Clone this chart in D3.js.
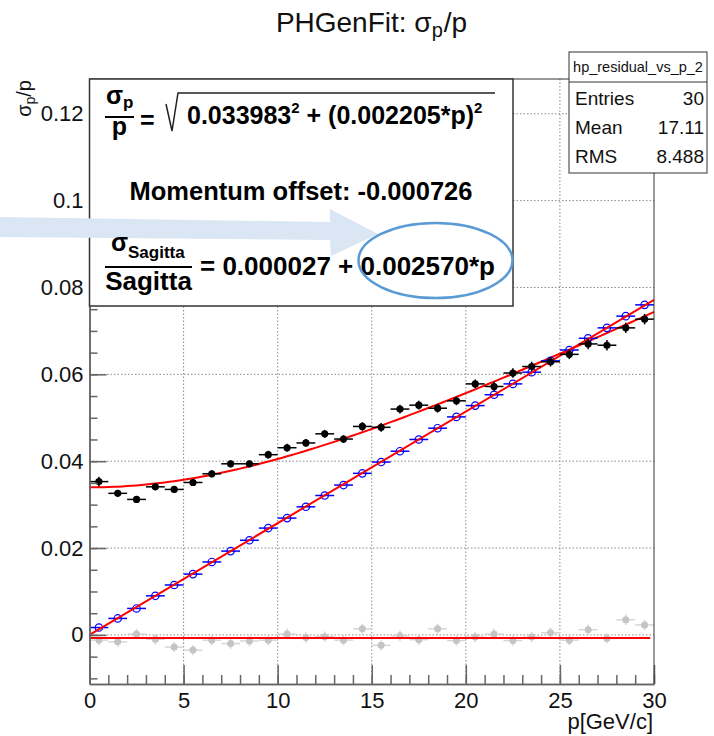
<!DOCTYPE html>
<html><head><meta charset="utf-8">
<script src="https://cdn.jsdelivr.net/npm/d3@7"></script>
<style>
body{margin:0;background:#fff;}
svg{display:block;font-family:"Liberation Sans",Arial,Helvetica,sans-serif;}
</style>
</head><body><svg id="c" width="714" height="736"></svg>
<script>
// ---------- data ----------
const binCenters = [0.5,1.5,2.5,3.5,4.5,5.5,6.5,7.5,8.5,9.5,10.5,11.5,12.5,13.5,14.5,15.5,16.5,17.5,18.5,19.5,20.5,21.5,22.5,23.5,24.5,25.5,26.5,27.5,28.5,29.5];
const sigmaPOverP = [0.0353,0.0326,0.0312,0.0341,0.0335,0.0351,0.0371,0.0394,0.0394,0.0415,0.0431,0.0442,0.0463,0.0451,0.0480,0.0478,0.0520,0.0529,0.0522,0.0539,0.0578,0.0572,0.0603,0.0618,0.0629,0.0646,0.0670,0.0667,0.0707,0.0727];
const sigmaPErr = [0.0011,0.0008,0.0008,0.0008,0.0008,0.0008,0.0008,0.0008,0.0008,0.0009,0.0009,0.0009,0.0009,0.0009,0.0010,0.0010,0.0010,0.0010,0.0010,0.0010,0.0010,0.0011,0.0011,0.0011,0.0011,0.0011,0.0012,0.0012,0.0012,0.0012];
const sagittaRes = [0.0017,0.0038,0.0061,0.0090,0.0115,0.0140,0.0168,0.0193,0.0218,0.0246,0.0269,0.0295,0.0321,0.0345,0.0372,0.0398,0.0423,0.0450,0.0476,0.0502,0.0528,0.0553,0.0578,0.0605,0.0631,0.0656,0.0683,0.0707,0.0734,0.0760];
const momentumOffset = [-0.0012,-0.0016,0.0002,-0.0010,-0.0028,-0.0035,-0.0012,-0.0020,-0.0014,-0.0012,0.0002,-0.0006,-0.0004,-0.0012,0.0014,-0.0024,-0.0002,-0.0011,0.0014,-0.0013,-0.0005,0.0002,-0.0013,-0.0005,0.0005,-0.0012,0.0012,-0.0008,0.0035,0.0023];
const offsetErr = [0.0012,0.0012,0.0012,0.0012,0.0012,0.0012,0.0012,0.0012,0.0012,0.0012,0.0012,0.0012,0.0012,0.0012,0.0012,0.0012,0.0012,0.0012,0.0012,0.0012,0.0012,0.0012,0.0012,0.0012,0.0012,0.0012,0.0012,0.0012,0.0012,0.0012];
const xTicks = [0,5,10,15,20,25,30];
const xTickLabels = ["0","5","10","15","20","25","30"];
const yTicks = [0,0.02,0.04,0.06,0.08,0.1,0.12];
const yTickLabels = ["0","0.02","0.04","0.06","0.08","0.1","0.12"];
const fitSigmaP = [0.033983, 0.002205];
const fitSagitta = [0.000027, 0.002570];
const fitOffset = [-0.000726];
const statsNames = ["Entries","Mean","RMS"];
const statsValues = ["30","17.11","8.488"];

// ---------- setup ----------
const svg = d3.select("#c");
const X0=89.5, X1=654, Y0=684, Y1=79;
const x = d3.scaleLinear().domain([0,30]).range([X0,X1]);
const y = d3.scaleLinear().domain([-0.0113,0.128]).range([Y0,Y1]);

// grid
const grid = svg.append("g").attr("stroke","#8a8a8a").attr("stroke-width",1).attr("stroke-dasharray","1.5,2");
xTicks.filter(t=>t>0&&t<30).forEach(t=>grid.append("line").attr("x1",x(t)).attr("x2",x(t)).attr("y1",Y1).attr("y2",Y0));
yTicks.forEach(t=>grid.append("line").attr("x1",X0).attr("x2",X1).attr("y1",y(t)).attr("y2",y(t)));

// fits
const red = "#ff0000";
const lineGen = d3.line().x(d=>x(d[0])).y(d=>y(d[1]));
const sampP = d3.range(0,30.001,0.25);
svg.append("path").attr("d",lineGen(sampP.map(p=>[p,Math.sqrt(fitSigmaP[0]**2+(fitSigmaP[1]*p)**2)])))
  .attr("fill","none").attr("stroke",red).attr("stroke-width",2);

// data series drawing
function drawSeries(vals, errs, opt){
  const g = svg.append("g");
  binCenters.forEach((p,i)=>{
    g.append("line").attr("x1",x(p-0.5)).attr("x2",x(p+0.5)).attr("y1",y(vals[i])).attr("y2",y(vals[i]))
      .attr("stroke",opt.bar).attr("stroke-width",1.5);
    if(errs){
      g.append("line").attr("x1",x(p)).attr("x2",x(p)).attr("y1",y(vals[i]-errs[i])).attr("y2",y(vals[i]+errs[i]))
        .attr("stroke",opt.bar).attr("stroke-width",1.5);
    }
    g.append("circle").attr("cx",x(p)).attr("cy",y(vals[i])).attr("r",opt.r)
      .attr("fill",opt.fill).attr("stroke",opt.stroke).attr("stroke-width",1.2);
  });
}
drawSeries(momentumOffset, offsetErr, {bar:"#d6d6d6", fill:"#c4c4c4", stroke:"none", r:3.5});
svg.append("path").attr("d",lineGen([[0,fitOffset[0]],[29.8,fitOffset[0]]])).attr("fill","none").attr("stroke",red).attr("stroke-width",2);
drawSeries(sagittaRes, null, {bar:"#0000ff", fill:"none", stroke:"#0000ff", r:3.7});
svg.append("path").attr("d",lineGen([[0,fitSagitta[0]],[30,fitSagitta[0]+fitSagitta[1]*30]])).attr("fill","none").attr("stroke",red).attr("stroke-width",2);
drawSeries(sigmaPOverP, sigmaPErr, {bar:"#000", fill:"#000", stroke:"none", r:3.6});

// axes
const axCol="#666";
function styleAxis(g){ g.selectAll("path,line").attr("stroke",axCol).attr("stroke-width",1.5); g.selectAll("text").attr("fill","#111").attr("font-size",22).attr("font-family","Liberation Sans, Arial, sans-serif"); }
svg.append("g").attr("transform",`translate(0,${Y0})`)
  .call(d3.axisBottom(x).tickValues(d3.range(0,31,1)).tickSize(-9).tickFormat("").tickSizeOuter(0)).call(styleAxis);
svg.append("g").attr("transform",`translate(0,${Y0})`)
  .call(d3.axisBottom(x).tickValues(xTicks).tickSize(-19).tickPadding(8).tickSizeOuter(0).tickFormat((d,i)=>xTickLabels[i])).call(styleAxis);
svg.append("g").attr("transform",`translate(${X0},0)`)
  .call(d3.axisLeft(y).tickValues(d3.range(-0.01,0.1251,0.005)).tickSize(-8).tickFormat("").tickSizeOuter(0)).call(styleAxis);
svg.append("g").attr("transform",`translate(${X0},0)`)
  .call(d3.axisLeft(y).tickValues(yTicks).tickSize(-17).tickPadding(6).tickSizeOuter(0).tickFormat((d,i)=>yTickLabels[i])).call(styleAxis);
// frame top/right
svg.append("path").attr("d",`M${X0},${Y1}H${X1}V${Y0}`).attr("fill","none").attr("stroke","#333").attr("stroke-width",1);

// axis titles
svg.append("text").attr("x",653).attr("y",729).attr("text-anchor","end").attr("font-size",22).attr("fill","#111").text("p[GeV/c]");
const yt = svg.append("text").attr("transform","translate(31,80) rotate(-90)").attr("text-anchor","end").attr("font-size",20).attr("fill","#111");
yt.append("tspan").text("σ");
yt.append("tspan").attr("dy",4).attr("font-size",14).text("p");
yt.append("tspan").attr("dy",-4).text("/p");

// title
const tt = svg.append("text").attr("x",371.5).attr("y",32).attr("text-anchor","middle").attr("font-size",28).attr("fill","#111");
tt.append("tspan").text("PHGenFit: σ");
tt.append("tspan").attr("dy",5).attr("font-size",20).text("p");
tt.append("tspan").attr("dy",-5).attr("dx",1).text("/p");

// formula box
svg.append("rect").attr("x",X0).attr("y",Y1).attr("width",513-X0).attr("height",306-Y1).attr("fill","#fff").attr("stroke","#333").attr("stroke-width",1.5);

// arrow
svg.append("path").attr("d","M0,217 L330,222 L330,209 L378,234 L331,256 L330,240 L0,237 Z").attr("fill","#dae6f3");

const F = svg.append("g").attr("font-weight","bold").attr("fill","#000");
// line 1
F.append("text").attr("x",106).attr("y",104).attr("font-size",25).text("σ");
F.append("text").attr("x",123).attr("y",108).attr("font-size",17).text("p");
F.append("line").attr("x1",105).attr("x2",134).attr("y1",117).attr("y2",117).attr("stroke","#000").attr("stroke-width",2);
F.append("text").attr("x",119.5).attr("y",135).attr("text-anchor","middle").attr("font-size",25).text("p");
F.append("text").attr("x",140).attr("y",129).attr("font-size",25).text("=");
F.append("path").attr("d","M166,104 L172,131 L178,93 H495").attr("fill","none").attr("stroke","#222").attr("stroke-width",1.5);
const l1 = F.append("text").attr("x",187).attr("y",124).attr("font-size",25);
l1.append("tspan").text("0.033983");
l1.append("tspan").attr("dy",-11).attr("font-size",15).text("2");
l1.append("tspan").attr("dy",11).text(" + (0.002205*p)");
l1.append("tspan").attr("dy",-11).attr("font-size",15).text("2");
// line 2
F.append("text").attr("x",301).attr("y",200).attr("text-anchor","middle").attr("font-size",25.5).text("Momentum offset: -0.000726");
// line 3
F.append("text").attr("x",111).attr("y",251).attr("font-size",25).text("σ");
F.append("text").attr("x",128).attr("y",258).attr("font-size",17).text("Sagitta");
F.append("line").attr("x1",105).attr("x2",192).attr("y1",267).attr("y2",267).attr("stroke","#000").attr("stroke-width",2);
F.append("text").attr("x",148.5).attr("y",290).attr("text-anchor","middle").attr("font-size",26).text("Sagitta");
F.append("text").attr("x",200).attr("y",275).attr("font-size",26).text("= 0.000027 + 0.002570*p");

// stats box
svg.append("rect").attr("x",569).attr("y",52).attr("width",138).attr("height",121).attr("fill","#fff").attr("stroke","#333").attr("stroke-width",1);
svg.append("line").attr("x1",569).attr("x2",707).attr("y1",82).attr("y2",82).attr("stroke","#333").attr("stroke-width",1);
svg.append("text").attr("x",638).attr("y",72).attr("text-anchor","middle").attr("font-size",14.5).attr("fill","#111").text("hp_residual_vs_p_2");
statsNames.forEach((n,i)=>{
  svg.append("text").attr("x",575).attr("y",105+i*29).attr("font-size",19).attr("fill","#111").text(n);
  svg.append("text").attr("x",704).attr("y",105+i*29).attr("text-anchor","end").attr("font-size",19).attr("fill","#111").text(statsValues[i]);
});

// ellipse
svg.append("ellipse").attr("cx",435.5).attr("cy",260.5).attr("rx",77).attr("ry",37.5).attr("fill","none").attr("stroke","#5b9bd5").attr("stroke-width",2.5);
</script>
</body></html>
